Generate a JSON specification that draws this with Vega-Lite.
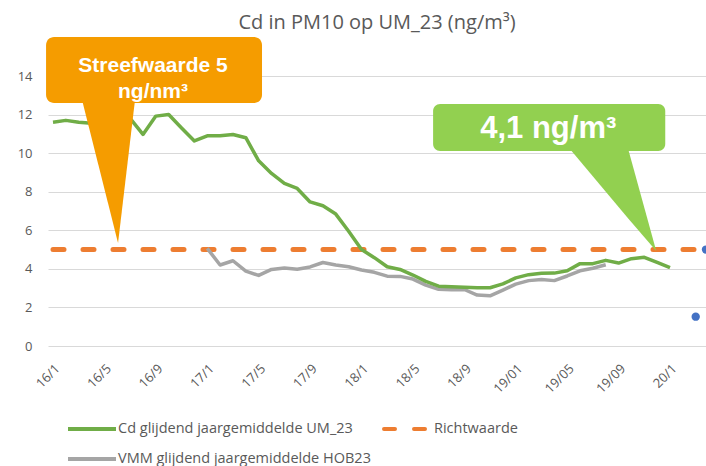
{
  "$schema": "https://vega.github.io/schema/vega-lite/v6.json",
  "width": 658,
  "height": 270,
  "autosize": {"type": "none"},
  "padding": {"left": 48, "top": 76, "right": 0, "bottom": 120},
  "background": "white",
  "config": {
    "view": {"stroke": null},
    "font": "Open Sans",
    "axisX": {
      "labelAngle": -45,
      "labelAlign": "right",
      "labelBaseline": "top",
      "labelPadding": 16,
      "labelFont": "Open Sans",
      "labelFontSize": 13,
      "labelColor": "#595959",
      "labelFlush": false,
      "labelOverlap": false,
      "labelBound": false,
      "ticks": false,
      "domain": false,
      "grid": false
    },
    "axisY": {
      "labelPadding": 16,
      "labelFont": "Open Sans",
      "labelFontSize": 13,
      "labelColor": "#595959",
      "labelOverlap": false,
      "labelFlush": false,
      "labelBound": false,
      "ticks": false,
      "domain": false,
      "grid": true,
      "gridColor": "#D9D9D9",
      "gridWidth": 1
    }
  },
  "title": {
    "text": "Cd in PM10 op UM_23 (ng/m³)",
    "font": "Open Sans",
    "fontSize": 20,
    "fontWeight": "normal",
    "color": "#595959",
    "anchor": "middle",
    "frame": "group",
    "offset": 4
  },
  "datasets": {
    "lijnen": [
      {"serie": "Richtwaarde", "maand": 0, "waarde": 5},
      {"serie": "Richtwaarde", "maand": 50.8, "waarde": 5},
      {"serie": "VMM glijdend jaargemiddelde HOB23", "maand": 12, "waarde": 5.06},
      {"serie": "VMM glijdend jaargemiddelde HOB23", "maand": 13, "waarde": 4.2},
      {"serie": "VMM glijdend jaargemiddelde HOB23", "maand": 14, "waarde": 4.42},
      {"serie": "VMM glijdend jaargemiddelde HOB23", "maand": 15, "waarde": 3.88},
      {"serie": "VMM glijdend jaargemiddelde HOB23", "maand": 16, "waarde": 3.66},
      {"serie": "VMM glijdend jaargemiddelde HOB23", "maand": 17, "waarde": 3.97},
      {"serie": "VMM glijdend jaargemiddelde HOB23", "maand": 18, "waarde": 4.05},
      {"serie": "VMM glijdend jaargemiddelde HOB23", "maand": 19, "waarde": 3.98},
      {"serie": "VMM glijdend jaargemiddelde HOB23", "maand": 20, "waarde": 4.1},
      {"serie": "VMM glijdend jaargemiddelde HOB23", "maand": 21, "waarde": 4.33},
      {"serie": "VMM glijdend jaargemiddelde HOB23", "maand": 22, "waarde": 4.2},
      {"serie": "VMM glijdend jaargemiddelde HOB23", "maand": 23, "waarde": 4.11},
      {"serie": "VMM glijdend jaargemiddelde HOB23", "maand": 24, "waarde": 3.94},
      {"serie": "VMM glijdend jaargemiddelde HOB23", "maand": 25, "waarde": 3.82},
      {"serie": "VMM glijdend jaargemiddelde HOB23", "maand": 26, "waarde": 3.62},
      {"serie": "VMM glijdend jaargemiddelde HOB23", "maand": 27, "waarde": 3.61},
      {"serie": "VMM glijdend jaargemiddelde HOB23", "maand": 28, "waarde": 3.47},
      {"serie": "VMM glijdend jaargemiddelde HOB23", "maand": 29, "waarde": 3.16},
      {"serie": "VMM glijdend jaargemiddelde HOB23", "maand": 30, "waarde": 2.94},
      {"serie": "VMM glijdend jaargemiddelde HOB23", "maand": 31, "waarde": 2.92},
      {"serie": "VMM glijdend jaargemiddelde HOB23", "maand": 32, "waarde": 2.93},
      {"serie": "VMM glijdend jaargemiddelde HOB23", "maand": 33, "waarde": 2.64},
      {"serie": "VMM glijdend jaargemiddelde HOB23", "maand": 34, "waarde": 2.6},
      {"serie": "VMM glijdend jaargemiddelde HOB23", "maand": 35, "waarde": 2.9},
      {"serie": "VMM glijdend jaargemiddelde HOB23", "maand": 36, "waarde": 3.21},
      {"serie": "VMM glijdend jaargemiddelde HOB23", "maand": 37, "waarde": 3.39},
      {"serie": "VMM glijdend jaargemiddelde HOB23", "maand": 38, "waarde": 3.45},
      {"serie": "VMM glijdend jaargemiddelde HOB23", "maand": 39, "waarde": 3.39},
      {"serie": "VMM glijdend jaargemiddelde HOB23", "maand": 40, "waarde": 3.63},
      {"serie": "VMM glijdend jaargemiddelde HOB23", "maand": 41, "waarde": 3.9},
      {"serie": "VMM glijdend jaargemiddelde HOB23", "maand": 42, "waarde": 4.03},
      {"serie": "VMM glijdend jaargemiddelde HOB23", "maand": 43, "waarde": 4.21},
      {"serie": "Cd glijdend jaargemiddelde UM_23", "maand": 0, "waarde": 11.6},
      {"serie": "Cd glijdend jaargemiddelde UM_23", "maand": 1, "waarde": 11.7},
      {"serie": "Cd glijdend jaargemiddelde UM_23", "maand": 2, "waarde": 11.6},
      {"serie": "Cd glijdend jaargemiddelde UM_23", "maand": 3, "waarde": 11.55},
      {"serie": "Cd glijdend jaargemiddelde UM_23", "maand": 4, "waarde": 11.6},
      {"serie": "Cd glijdend jaargemiddelde UM_23", "maand": 5, "waarde": 11.75},
      {"serie": "Cd glijdend jaargemiddelde UM_23", "maand": 6, "waarde": 11.8},
      {"serie": "Cd glijdend jaargemiddelde UM_23", "maand": 7, "waarde": 10.97},
      {"serie": "Cd glijdend jaargemiddelde UM_23", "maand": 8, "waarde": 11.92},
      {"serie": "Cd glijdend jaargemiddelde UM_23", "maand": 9, "waarde": 12.0},
      {"serie": "Cd glijdend jaargemiddelde UM_23", "maand": 10, "waarde": 11.3},
      {"serie": "Cd glijdend jaargemiddelde UM_23", "maand": 11, "waarde": 10.63},
      {"serie": "Cd glijdend jaargemiddelde UM_23", "maand": 12, "waarde": 10.9},
      {"serie": "Cd glijdend jaargemiddelde UM_23", "maand": 13, "waarde": 10.9},
      {"serie": "Cd glijdend jaargemiddelde UM_23", "maand": 14, "waarde": 10.97},
      {"serie": "Cd glijdend jaargemiddelde UM_23", "maand": 15, "waarde": 10.8},
      {"serie": "Cd glijdend jaargemiddelde UM_23", "maand": 16, "waarde": 9.6},
      {"serie": "Cd glijdend jaargemiddelde UM_23", "maand": 17, "waarde": 8.95},
      {"serie": "Cd glijdend jaargemiddelde UM_23", "maand": 18, "waarde": 8.43},
      {"serie": "Cd glijdend jaargemiddelde UM_23", "maand": 19, "waarde": 8.17},
      {"serie": "Cd glijdend jaargemiddelde UM_23", "maand": 20, "waarde": 7.47},
      {"serie": "Cd glijdend jaargemiddelde UM_23", "maand": 21, "waarde": 7.27},
      {"serie": "Cd glijdend jaargemiddelde UM_23", "maand": 22, "waarde": 6.84},
      {"serie": "Cd glijdend jaargemiddelde UM_23", "maand": 23, "waarde": 5.95},
      {"serie": "Cd glijdend jaargemiddelde UM_23", "maand": 24, "waarde": 5.0},
      {"serie": "Cd glijdend jaargemiddelde UM_23", "maand": 25, "waarde": 4.58},
      {"serie": "Cd glijdend jaargemiddelde UM_23", "maand": 26, "waarde": 4.11},
      {"serie": "Cd glijdend jaargemiddelde UM_23", "maand": 27, "waarde": 3.97},
      {"serie": "Cd glijdend jaargemiddelde UM_23", "maand": 28, "waarde": 3.68},
      {"serie": "Cd glijdend jaargemiddelde UM_23", "maand": 29, "waarde": 3.35},
      {"serie": "Cd glijdend jaargemiddelde UM_23", "maand": 30, "waarde": 3.1},
      {"serie": "Cd glijdend jaargemiddelde UM_23", "maand": 31, "waarde": 3.07},
      {"serie": "Cd glijdend jaargemiddelde UM_23", "maand": 32, "waarde": 3.05},
      {"serie": "Cd glijdend jaargemiddelde UM_23", "maand": 33, "waarde": 3.02},
      {"serie": "Cd glijdend jaargemiddelde UM_23", "maand": 34, "waarde": 3.02},
      {"serie": "Cd glijdend jaargemiddelde UM_23", "maand": 35, "waarde": 3.22},
      {"serie": "Cd glijdend jaargemiddelde UM_23", "maand": 36, "waarde": 3.53},
      {"serie": "Cd glijdend jaargemiddelde UM_23", "maand": 37, "waarde": 3.7},
      {"serie": "Cd glijdend jaargemiddelde UM_23", "maand": 38, "waarde": 3.77},
      {"serie": "Cd glijdend jaargemiddelde UM_23", "maand": 39, "waarde": 3.78},
      {"serie": "Cd glijdend jaargemiddelde UM_23", "maand": 40, "waarde": 3.9},
      {"serie": "Cd glijdend jaargemiddelde UM_23", "maand": 41, "waarde": 4.27},
      {"serie": "Cd glijdend jaargemiddelde UM_23", "maand": 42, "waarde": 4.27},
      {"serie": "Cd glijdend jaargemiddelde UM_23", "maand": 43, "waarde": 4.44},
      {"serie": "Cd glijdend jaargemiddelde UM_23", "maand": 44, "waarde": 4.3},
      {"serie": "Cd glijdend jaargemiddelde UM_23", "maand": 45, "waarde": 4.53},
      {"serie": "Cd glijdend jaargemiddelde UM_23", "maand": 46, "waarde": 4.6},
      {"serie": "Cd glijdend jaargemiddelde UM_23", "maand": 47, "waarde": 4.33},
      {"serie": "Cd glijdend jaargemiddelde UM_23", "maand": 48, "waarde": 4.06}
    ],
    "punten": [
      {"maand": 50.0, "waarde": 1.52},
      {"maand": 50.8, "waarde": 5.0}
    ]
  },
  "layer": [
    {
      "data": {"name": "lijnen"},
      "transform": [{"filter": "datum.serie === 'Richtwaarde'"}],
      "mark": {"type": "line", "strokeWidth": 5, "strokeCap": "round", "strokeDash": [11, 19]},
      "encoding": {
        "x": {"field": "maand", "type": "quantitative", "scale": {"domain": [-0.389, 50.8], "nice": false, "zero": false},
          "axis": {"title": null, "values": [0, 4, 8, 12, 16, 20, 24, 28, 32, 36, 40, 44, 48], "labelExpr": "['16/1','16/5','16/9','17/1','17/5','17/9','18/1','18/5','18/9','19/01','19/05','19/09','20/1'][datum.value / 4]"}},
        "y": {"field": "waarde", "type": "quantitative", "scale": {"domain": [0, 14], "nice": false, "zero": false},
          "axis": {"title": null, "values": [0, 2, 4, 6, 8, 10, 12, 14]}},
        "color": {
          "field": "serie", "type": "nominal",
          "scale": {
            "domain": ["Cd glijdend jaargemiddelde UM_23", "VMM glijdend jaargemiddelde HOB23", "Richtwaarde"],
            "range": ["#70AD47", "#A5A5A5", "#ED7D31"]
          },
          "legend": {
            "title": null,
            "orient": "none",
            "legendX": 18,
            "legendY": 339,
            "columns": 2,
            "symbolType": "M-1,0H3",
            "symbolSize": 576,
            "symbolStrokeWidth": 4,
            "labelFont": "Open Sans",
            "labelFontSize": 14.5,
            "labelColor": "#595959",
            "labelLimit": 0,
            "labelOffset": 24,
            "columnPadding": 5,
            "rowPadding": 8,
            "padding": 0,
            "encode": {
              "symbols": {
                "update": {
                  "strokeDash": {"signal": "datum.value === 'Richtwaarde' ? [11, 19] : [1, 0]"},
                  "strokeCap": {"signal": "datum.value === 'Richtwaarde' ? 'round' : 'butt'"}
                }
              }
            }
          }
        }
      }
    },
    {
      "data": {"name": "lijnen"},
      "transform": [{"filter": "datum.serie === 'VMM glijdend jaargemiddelde HOB23'"}],
      "mark": {"type": "line", "strokeWidth": 3.5, "strokeJoin": "round"},
      "encoding": {
        "x": {"field": "maand", "type": "quantitative", "scale": {"domain": [-0.389, 50.8], "nice": false, "zero": false},
          "axis": {"title": null, "values": [0, 4, 8, 12, 16, 20, 24, 28, 32, 36, 40, 44, 48], "labelExpr": "['16/1','16/5','16/9','17/1','17/5','17/9','18/1','18/5','18/9','19/01','19/05','19/09','20/1'][datum.value / 4]"}},
        "y": {"field": "waarde", "type": "quantitative", "scale": {"domain": [0, 14], "nice": false, "zero": false},
          "axis": {"title": null, "values": [0, 2, 4, 6, 8, 10, 12, 14]}},
        "color": {"field": "serie", "type": "nominal"}
      }
    },
    {
      "data": {"name": "lijnen"},
      "transform": [{"filter": "datum.serie === 'Cd glijdend jaargemiddelde UM_23'"}],
      "mark": {"type": "line", "strokeWidth": 3.5, "strokeJoin": "round"},
      "encoding": {
        "x": {"field": "maand", "type": "quantitative", "scale": {"domain": [-0.389, 50.8], "nice": false, "zero": false},
          "axis": {"title": null, "values": [0, 4, 8, 12, 16, 20, 24, 28, 32, 36, 40, 44, 48], "labelExpr": "['16/1','16/5','16/9','17/1','17/5','17/9','18/1','18/5','18/9','19/01','19/05','19/09','20/1'][datum.value / 4]"}},
        "y": {"field": "waarde", "type": "quantitative", "scale": {"domain": [0, 14], "nice": false, "zero": false},
          "axis": {"title": null, "values": [0, 2, 4, 6, 8, 10, 12, 14]}},
        "color": {"field": "serie", "type": "nominal"}
      }
    },
    {
      "data": {"name": "punten"},
      "mark": {"type": "point", "filled": true, "opacity": 1, "size": 70, "color": "#4472C4"},
      "encoding": {
        "x": {"field": "maand", "type": "quantitative", "scale": {"domain": [-0.389, 50.8], "nice": false, "zero": false},
          "axis": {"title": null, "values": [0, 4, 8, 12, 16, 20, 24, 28, 32, 36, 40, 44, 48], "labelExpr": "['16/1','16/5','16/9','17/1','17/5','17/9','18/1','18/5','18/9','19/01','19/05','19/09','20/1'][datum.value / 4]"}},
        "y": {"field": "waarde", "type": "quantitative", "scale": {"domain": [0, 14], "nice": false, "zero": false},
          "axis": {"title": null, "values": [0, 2, 4, 6, 8, 10, 12, 14]}}
      }
    },
    {
      "data": {"values": [
        {"x": 2.26, "boven": 12.75, "onder": 12.75},
        {"x": 5.06, "boven": 12.75, "onder": 5.34},
        {"x": 6.38, "boven": 12.75, "onder": 12.75}
      ]},
      "mark": {"type": "area", "color": "#F59C00", "opacity": 1},
      "encoding": {
        "x": {"field": "x", "type": "quantitative", "scale": {"domain": [-0.389, 50.8], "nice": false, "zero": false},
          "axis": {"title": null, "values": [0, 4, 8, 12, 16, 20, 24, 28, 32, 36, 40, 44, 48], "labelExpr": "['16/1','16/5','16/9','17/1','17/5','17/9','18/1','18/5','18/9','19/01','19/05','19/09','20/1'][datum.value / 4]"}},
        "y": {"field": "boven", "type": "quantitative", "scale": {"domain": [0, 14], "nice": false, "zero": false},
          "axis": {"title": null, "values": [0, 2, 4, 6, 8, 10, 12, 14]}},
        "y2": {"field": "onder"}
      }
    },
    {
      "data": {"values": [{"x": -0.54, "x2": 16.26, "y": 16.02, "y2": 12.6}]},
      "mark": {"type": "rect", "color": "#F59C00", "cornerRadius": 8},
      "encoding": {
        "x": {"field": "x", "type": "quantitative", "scale": {"domain": [-0.389, 50.8], "nice": false, "zero": false},
          "axis": {"title": null, "values": [0, 4, 8, 12, 16, 20, 24, 28, 32, 36, 40, 44, 48], "labelExpr": "['16/1','16/5','16/9','17/1','17/5','17/9','18/1','18/5','18/9','19/01','19/05','19/09','20/1'][datum.value / 4]"}},
        "x2": {"field": "x2"},
        "y": {"field": "y", "type": "quantitative", "scale": {"domain": [0, 14], "nice": false, "zero": false},
          "axis": {"title": null, "values": [0, 2, 4, 6, 8, 10, 12, 14]}},
        "y2": {"field": "y2"}
      }
    },
    {
      "data": {"values": [
        {"x": 7.78, "y": 14.22, "tekst": "Streefwaarde 5"},
        {"x": 7.78, "y": 12.84, "tekst": "ng/nm³"}
      ]},
      "mark": {"type": "text", "font": "Liberation Sans", "fontSize": 21, "fontWeight": "bold", "color": "white", "align": "center", "baseline": "alphabetic"},
      "encoding": {
        "x": {"field": "x", "type": "quantitative", "scale": {"domain": [-0.389, 50.8], "nice": false, "zero": false},
          "axis": {"title": null, "values": [0, 4, 8, 12, 16, 20, 24, 28, 32, 36, 40, 44, 48], "labelExpr": "['16/1','16/5','16/9','17/1','17/5','17/9','18/1','18/5','18/9','19/01','19/05','19/09','20/1'][datum.value / 4]"}},
        "y": {"field": "y", "type": "quantitative", "scale": {"domain": [0, 14], "nice": false, "zero": false},
          "axis": {"title": null, "values": [0, 2, 4, 6, 8, 10, 12, 14]}},
        "text": {"field": "tekst"}
      }
    },
    {
      "data": {"values": [
        {"x": 40.23, "boven": 10.2, "onder": 10.2},
        {"x": 44.75, "boven": 10.2, "onder": 6.61},
        {"x": 46.93, "boven": 4.92, "onder": 4.92}
      ]},
      "mark": {"type": "area", "color": "#92D050", "opacity": 1},
      "encoding": {
        "x": {"field": "x", "type": "quantitative", "scale": {"domain": [-0.389, 50.8], "nice": false, "zero": false},
          "axis": {"title": null, "values": [0, 4, 8, 12, 16, 20, 24, 28, 32, 36, 40, 44, 48], "labelExpr": "['16/1','16/5','16/9','17/1','17/5','17/9','18/1','18/5','18/9','19/01','19/05','19/09','20/1'][datum.value / 4]"}},
        "y": {"field": "boven", "type": "quantitative", "scale": {"domain": [0, 14], "nice": false, "zero": false},
          "axis": {"title": null, "values": [0, 2, 4, 6, 8, 10, 12, 14]}},
        "y2": {"field": "onder"}
      }
    },
    {
      "data": {"values": [{"x": 29.57, "x2": 47.63, "y": 12.55, "y2": 10.11}]},
      "mark": {"type": "rect", "color": "#92D050", "cornerRadius": 7},
      "encoding": {
        "x": {"field": "x", "type": "quantitative", "scale": {"domain": [-0.389, 50.8], "nice": false, "zero": false},
          "axis": {"title": null, "values": [0, 4, 8, 12, 16, 20, 24, 28, 32, 36, 40, 44, 48], "labelExpr": "['16/1','16/5','16/9','17/1','17/5','17/9','18/1','18/5','18/9','19/01','19/05','19/09','20/1'][datum.value / 4]"}},
        "x2": {"field": "x2"},
        "y": {"field": "y", "type": "quantitative", "scale": {"domain": [0, 14], "nice": false, "zero": false},
          "axis": {"title": null, "values": [0, 2, 4, 6, 8, 10, 12, 14]}},
        "y2": {"field": "y2"}
      }
    },
    {
      "data": {"values": [{"x": 38.53, "y": 10.78, "tekst": "4,1 ng/m³"}]},
      "mark": {"type": "text", "font": "Liberation Sans", "fontSize": 31, "fontWeight": "bold", "color": "white", "align": "center", "baseline": "alphabetic"},
      "encoding": {
        "x": {"field": "x", "type": "quantitative", "scale": {"domain": [-0.389, 50.8], "nice": false, "zero": false},
          "axis": {"title": null, "values": [0, 4, 8, 12, 16, 20, 24, 28, 32, 36, 40, 44, 48], "labelExpr": "['16/1','16/5','16/9','17/1','17/5','17/9','18/1','18/5','18/9','19/01','19/05','19/09','20/1'][datum.value / 4]"}},
        "y": {"field": "y", "type": "quantitative", "scale": {"domain": [0, 14], "nice": false, "zero": false},
          "axis": {"title": null, "values": [0, 2, 4, 6, 8, 10, 12, 14]}},
        "text": {"field": "tekst"}
      }
    }
  ]
}
